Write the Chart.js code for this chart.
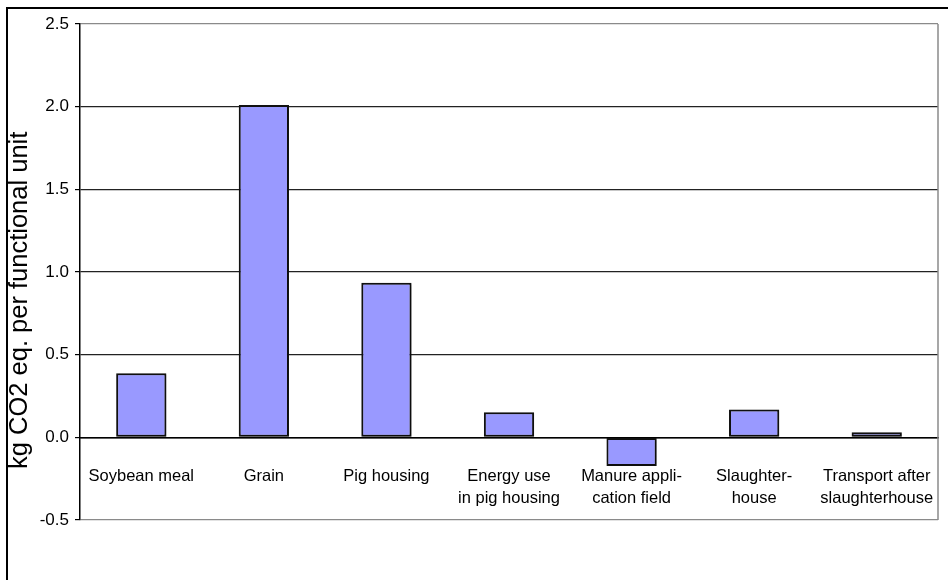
<!DOCTYPE html>
<html>
<head>
<meta charset="utf-8">
<script src="https://cdn.jsdelivr.net/npm/chart.js@4"></script>
<style>
  html, body { margin: 0; padding: 0; background: #fff; overflow: hidden; }
  #frame { position: absolute; left: 6px; top: 7px; width: 1000px; height: 1000px; border: 2px solid #000; }
  #wrap { position: absolute; left: 0; top: 0; width: 948px; height: 580px; }
</style>
</head>
<body>
<div id="frame"></div>
<div id="wrap"><canvas id="chart" width="948" height="580"></canvas></div>
<script>
// categories and values
const categories = [
  'Soybean meal',
  'Grain',
  'Pig housing',
  ['Energy use', 'in pig housing'],
  ['Manure appli-', 'cation field'],
  ['Slaughter-', 'house'],
  ['Transport after', 'slaughterhouse']
];
const emissions = [0.387, 2.01, 0.935, 0.151, -0.173, 0.169, 0.03];

const yMin = -0.5;
const yMax = 2.5;
const yStep = 0.5;
const yTitle = 'kg CO2 eq. per functional unit';

const FONT = "'Liberation Sans', Arial, sans-serif";

// soft drop shadow under the bars, like the original export
const barShadow = {
  id: 'barShadow',
  beforeDatasetsDraw(chart) {
    const ctx = chart.ctx;
    ctx.save();
    ctx.shadowColor = 'rgba(0,0,0,0.3)';
    ctx.shadowBlur = 2;
    ctx.shadowOffsetX = 1;
    ctx.shadowOffsetY = 1;
  },
  afterDatasetsDraw(chart) {
    chart.ctx.restore();
  }
};

// gray right edge of the plot area
const plotEdge = {
  id: 'plotEdge',
  beforeDatasetsDraw(chart) {
    const { ctx, chartArea } = chart;
    ctx.save();
    ctx.strokeStyle = '#8a8a8a';
    ctx.lineWidth = 1.5;
    ctx.beginPath();
    ctx.moveTo(chartArea.right, chartArea.top);
    ctx.lineTo(chartArea.right, chartArea.bottom);
    ctx.stroke();
    ctx.restore();
  }
};

const ctx = document.getElementById('chart').getContext('2d');
new Chart(ctx, {
  type: 'bar',
  data: {
    labels: categories,
    datasets: [{
      data: emissions,
      backgroundColor: '#9999ff',
      borderColor: '#111',
      borderWidth: 2,
      borderSkipped: false,
      barPercentage: 0.41,
      categoryPercentage: 1
    }]
  },
  options: {
    responsive: false,
    animation: false,
    layout: { padding: { left: 0, top: 24, right: 10, bottom: 60 } },
    plugins: {
      legend: { display: false },
      tooltip: { enabled: false }
    },
    scales: {
      x: {
        position: { y: 0 },
        // labels may run to the plot edge, as in the original
        afterFit(scale) { scale.paddingLeft = 0; scale.paddingRight = 0; },
        grid: { display: false, drawTicks: false },
        border: { display: true, color: '#000', width: 1.5 },
        ticks: {
          color: '#000',
          font: { family: FONT, size: 16.5, lineHeight: 1.33 },
          padding: 28,
          maxRotation: 0,
          autoSkip: false
        }
      },
      y: {
        min: yMin,
        max: yMax,
        afterFit(scale) { scale.width = 80; scale.paddingTop = 0; scale.paddingBottom = 0; },
        grid: {
          color(c) {
            const v = c.tick.value;
            if (v === 0) return '#000';
            if (v === yMax || v === yMin) return '#8a8a8a';
            return '#222';
          },
          lineWidth: 1.2,
          tickColor: '#000',
          tickLength: 5
        },
        border: { display: true, color: '#000', width: 1.5 },
        ticks: {
          stepSize: yStep,
          color: '#000',
          font: { family: FONT, size: 17 },
          padding: 6,
          callback: (v) => v.toFixed(1)
        },
        title: {
          display: true,
          // trailing spaces push the rotated title down, as in the original
          text: yTitle + '        ',
          color: '#000',
          font: { family: FONT, size: 25.5 },
          padding: { top: 5, bottom: 0 }
        }
      }
    }
  },
  plugins: [plotEdge, barShadow]
});
</script>
</body>
</html>
